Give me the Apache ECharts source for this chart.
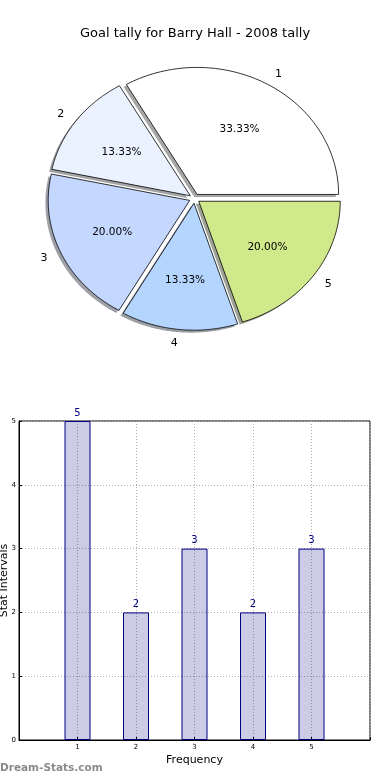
<!DOCTYPE html>
<html>
<head>
<meta charset="utf-8">
<script src="https://cdn.jsdelivr.net/npm/echarts@6/dist/echarts.min.js"></script>
<style>
html,body{margin:0;padding:0;background:#fff;}
#chart{width:390px;height:780px;}
</style>
</head>
<body>
<div id="chart"></div>
<script>
// ---- data ----
const categories = ['1', '2', '3', '4', '5'];
const goals = [5, 2, 3, 2, 3];
const xTickValues = [1, 2, 3, 4, 5];
const yTickValues = [0, 1, 2, 3, 4, 5];
const titleText = 'Goal tally for Barry Hall - 2008 tally';

// ---- style ----
const pieColors = ['#ffffff', '#ebf2ff', '#c4d7ff', '#b4d5fe', '#d0ea8b'];
const FONT = '"DejaVu Sans", "Liberation Sans", sans-serif';
const PIE = { cx: 194.5, cy: 198.5, rx: 141.5, ry: 127, explode: 0.037, shadowDx: -2.8, shadowDy: 2.5 };

function shadowOf(hex) {
  const n = parseInt(hex.slice(1), 16);
  const r = Math.round(((n >> 16) & 255) * 0.3);
  const g = Math.round(((n >> 8) & 255) * 0.3);
  const b = Math.round((n & 255) * 0.3);
  return 'rgba(' + r + ',' + g + ',' + b + ',0.5)';
}

const total = goals.reduce((a, b) => a + b, 0);

function renderWedge(params, api) {
  const i = params.dataIndex;
  const v = api.value(1);
  let before = 0;
  for (let k = 0; k < i; k++) before += goals[k];
  const t1 = before / total * 2 * Math.PI;
  const t2 = (before + v) / total * 2 * Math.PI;
  const mid = (t1 + t2) / 2;
  const ox = PIE.cx + PIE.explode * PIE.rx * Math.cos(mid);
  const oy = PIE.cy - PIE.explode * PIE.ry * Math.sin(mid);
  const pts = [[ox, oy]];
  const N = 80;
  for (let k = 0; k <= N; k++) {
    const t = t1 + (t2 - t1) * k / N;
    pts.push([ox + PIE.rx * Math.cos(t), oy - PIE.ry * Math.sin(t)]);
  }
  const sh = pts.map(p => [p[0] + PIE.shadowDx, p[1] + PIE.shadowDy]);
  const pct = (v / total * 100).toFixed(2) + '%';
  const px = ox + 0.6 * PIE.rx * Math.cos(mid);
  const py = oy - 0.6 * PIE.ry * Math.sin(mid) + 1;
  const lx = ox + 1.1 * PIE.rx * Math.cos(mid);
  const ly = oy - 1.1 * PIE.ry * Math.sin(mid) + 1;
  const color = pieColors[i % pieColors.length];
  return {
    type: 'group',
    children: [
      { type: 'polygon', z2: 0, shape: { points: sh }, style: { fill: shadowOf(color) } },
      { type: 'polygon', z2: 10, shape: { points: pts }, style: { fill: color, stroke: '#000', lineWidth: 0.8 } },
      { type: 'text', z2: 20, style: { text: pct, x: px, y: py, align: 'center', verticalAlign: 'middle', font: '10.5px ' + FONT, fill: '#000' } },
      { type: 'text', z2: 20, style: { text: categories[i], x: lx, y: ly, align: Math.cos(mid) > 0 ? 'left' : 'right', verticalAlign: 'middle', font: '11px ' + FONT, fill: '#000' } }
    ]
  };
}

const chart = echarts.init(document.getElementById('chart'), null, { renderer: 'canvas' });

const option = {
  animation: false,
  backgroundColor: '#fff',
  title: {
    text: titleText,
    left: 'center',
    top: 22,
    textStyle: { fontSize: 13, fontWeight: 'normal', color: '#000', fontFamily: FONT }
  },
  graphic: [{
    type: 'text', left: 0, top: 763,
    style: { text: 'Dream-Stats.com', font: 'bold 10.5px ' + FONT, fill: '#8a8a8a' }
  }],
  grid: {
    left: 19, right: 20, top: 421, bottom: 40,
    outerBoundsMode: 'none',
    containLabel: false,
    show: true, borderColor: '#000', borderWidth: 1, backgroundColor: 'transparent'
  },
  xAxis: {
    type: 'value', min: 0, max: 6, interval: 1,
    name: 'Frequency', nameLocation: 'middle', nameGap: 15, nameMoveOverlap: false,
    nameTextStyle: { fontSize: 11, color: '#000', fontFamily: FONT },
    axisLine: { show: true, lineStyle: { color: '#000', width: 1 } },
    axisTick: { show: true, inside: true, length: 3, lineStyle: { color: '#000' } },
    axisLabel: {
      fontSize: 7, color: '#000', fontFamily: FONT, margin: 4,
      formatter: v => (xTickValues.indexOf(v) >= 0 ? String(v) : '')
    },
    splitLine: { show: true, lineStyle: { color: '#b0b0b0', type: [1, 2], width: 1 } }
  },
  yAxis: {
    type: 'value', min: 0, max: 5, interval: 1,
    name: 'Stat Intervals', nameLocation: 'middle', nameGap: 9, nameRotate: 90, nameMoveOverlap: false,
    nameTextStyle: { fontSize: 11, color: '#000', fontFamily: FONT },
    axisLine: { show: true, lineStyle: { color: '#000', width: 1 } },
    axisTick: { show: true, inside: true, length: 3, lineStyle: { color: '#000' } },
    axisLabel: {
      fontSize: 7, color: '#000', fontFamily: FONT, margin: 3,
      formatter: v => (yTickValues.indexOf(v) >= 0 ? String(v) : '')
    },
    splitLine: { show: true, lineStyle: { color: '#b0b0b0', type: [1, 2], width: 1 } }
  },
  series: [
    {
      type: 'custom',
      coordinateSystem: 'none',
      renderItem: renderWedge,
      data: categories.map((c, i) => [i, goals[i]]),
      silent: true
    },
    {
      type: 'bar',
      data: categories.map((c, i) => [Number(c), goals[i]]),
      barWidth: 26,
      itemStyle: { color: 'rgba(0,0,128,0.2)', borderColor: '#000080', borderWidth: 1 },
      label: {
        show: true, position: 'top', distance: 3,
        color: '#000080', fontSize: 10, fontFamily: FONT
      },
      z: 3
    }
  ]
};

chart.setOption(option);
</script>
</body>
</html>
